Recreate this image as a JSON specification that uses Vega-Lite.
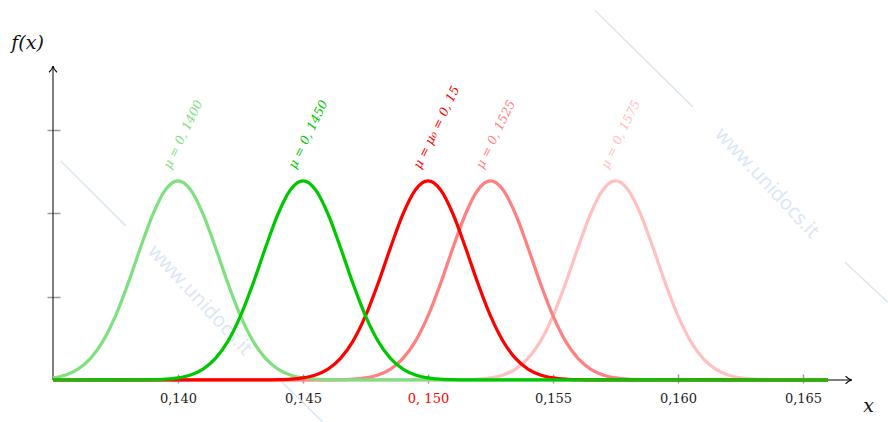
{
  "$schema": "https://vega.github.io/schema/vega-lite/v6.json",
  "width": 800,
  "height": 314,
  "autosize": {"type": "none"},
  "padding": {"left": 53, "top": 66, "right": 35, "bottom": 42},
  "background": "white",
  "config": {"view": {"stroke": null}},
  "datasets": {
    "curves": [
      {"s":"p1","x":0.135,"y":0},{"s":"p1","x":0.151,"y":0.0011},{"s":"p1","x":0.1515,"y":0.0035},{"s":"p1","x":0.152,"y":0.0099},{"s":"p1","x":0.1525,"y":0.0256},{"s":"p1","x":0.153,"y":0.0606},{"s":"p1","x":0.1535,"y":0.131},{"s":"p1","x":0.154,"y":0.259},{"s":"p1","x":0.1545,"y":0.467},{"s":"p1","x":0.155,"y":0.769},{"s":"p1","x":0.1555,"y":1.157},{"s":"p1","x":0.156,"y":1.589},{"s":"p1","x":0.1565,"y":1.993},{"s":"p1","x":0.157,"y":2.284},{"s":"p1","x":0.1575,"y":2.39},{"s":"p1","x":0.158,"y":2.284},{"s":"p1","x":0.1585,"y":1.993},{"s":"p1","x":0.159,"y":1.589},{"s":"p1","x":0.1595,"y":1.157},{"s":"p1","x":0.16,"y":0.769},{"s":"p1","x":0.1605,"y":0.467},{"s":"p1","x":0.161,"y":0.259},{"s":"p1","x":0.1615,"y":0.131},{"s":"p1","x":0.162,"y":0.0606},{"s":"p1","x":0.1625,"y":0.0256},{"s":"p1","x":0.163,"y":0.0099},{"s":"p1","x":0.1635,"y":0.0035},{"s":"p1","x":0.164,"y":0.0011},{"s":"p1","x":0.166,"y":0},
      {"s":"p2","x":0.135,"y":0},{"s":"p2","x":0.146,"y":0.0011},{"s":"p2","x":0.1465,"y":0.0035},{"s":"p2","x":0.147,"y":0.0099},{"s":"p2","x":0.1475,"y":0.0256},{"s":"p2","x":0.148,"y":0.0606},{"s":"p2","x":0.1485,"y":0.131},{"s":"p2","x":0.149,"y":0.259},{"s":"p2","x":0.1495,"y":0.467},{"s":"p2","x":0.15,"y":0.769},{"s":"p2","x":0.1505,"y":1.157},{"s":"p2","x":0.151,"y":1.589},{"s":"p2","x":0.1515,"y":1.993},{"s":"p2","x":0.152,"y":2.284},{"s":"p2","x":0.1525,"y":2.39},{"s":"p2","x":0.153,"y":2.284},{"s":"p2","x":0.1535,"y":1.993},{"s":"p2","x":0.154,"y":1.589},{"s":"p2","x":0.1545,"y":1.157},{"s":"p2","x":0.155,"y":0.769},{"s":"p2","x":0.1555,"y":0.467},{"s":"p2","x":0.156,"y":0.259},{"s":"p2","x":0.1565,"y":0.131},{"s":"p2","x":0.157,"y":0.0606},{"s":"p2","x":0.1575,"y":0.0256},{"s":"p2","x":0.158,"y":0.0099},{"s":"p2","x":0.1585,"y":0.0035},{"s":"p2","x":0.159,"y":0.0011},{"s":"p2","x":0.166,"y":0},
      {"s":"p3","x":0.135,"y":0.0256},{"s":"p3","x":0.1355,"y":0.0606},{"s":"p3","x":0.136,"y":0.131},{"s":"p3","x":0.1365,"y":0.259},{"s":"p3","x":0.137,"y":0.467},{"s":"p3","x":0.1375,"y":0.769},{"s":"p3","x":0.138,"y":1.157},{"s":"p3","x":0.1385,"y":1.589},{"s":"p3","x":0.139,"y":1.993},{"s":"p3","x":0.1395,"y":2.284},{"s":"p3","x":0.14,"y":2.39},{"s":"p3","x":0.1405,"y":2.284},{"s":"p3","x":0.141,"y":1.993},{"s":"p3","x":0.1415,"y":1.589},{"s":"p3","x":0.142,"y":1.157},{"s":"p3","x":0.1425,"y":0.769},{"s":"p3","x":0.143,"y":0.467},{"s":"p3","x":0.1435,"y":0.259},{"s":"p3","x":0.144,"y":0.131},{"s":"p3","x":0.1445,"y":0.0606},{"s":"p3","x":0.145,"y":0.0256},{"s":"p3","x":0.1455,"y":0.0099},{"s":"p3","x":0.146,"y":0.0035},{"s":"p3","x":0.1465,"y":0.0011},{"s":"p3","x":0.166,"y":0},
      {"s":"p4","x":0.135,"y":0},{"s":"p4","x":0.1435,"y":0.0011},{"s":"p4","x":0.144,"y":0.0035},{"s":"p4","x":0.1445,"y":0.0099},{"s":"p4","x":0.145,"y":0.0256},{"s":"p4","x":0.1455,"y":0.0606},{"s":"p4","x":0.146,"y":0.131},{"s":"p4","x":0.1465,"y":0.259},{"s":"p4","x":0.147,"y":0.467},{"s":"p4","x":0.1475,"y":0.769},{"s":"p4","x":0.148,"y":1.157},{"s":"p4","x":0.1485,"y":1.589},{"s":"p4","x":0.149,"y":1.993},{"s":"p4","x":0.1495,"y":2.284},{"s":"p4","x":0.15,"y":2.39},{"s":"p4","x":0.1505,"y":2.284},{"s":"p4","x":0.151,"y":1.993},{"s":"p4","x":0.1515,"y":1.589},{"s":"p4","x":0.152,"y":1.157},{"s":"p4","x":0.1525,"y":0.769},{"s":"p4","x":0.153,"y":0.467},{"s":"p4","x":0.1535,"y":0.259},{"s":"p4","x":0.154,"y":0.131},{"s":"p4","x":0.1545,"y":0.0606},{"s":"p4","x":0.155,"y":0.0256},{"s":"p4","x":0.1555,"y":0.0099},{"s":"p4","x":0.156,"y":0.0035},{"s":"p4","x":0.1565,"y":0.0011},{"s":"p4","x":0.166,"y":0},
      {"s":"p5","x":0.135,"y":0},{"s":"p5","x":0.1385,"y":0.0011},{"s":"p5","x":0.139,"y":0.0035},{"s":"p5","x":0.1395,"y":0.0099},{"s":"p5","x":0.14,"y":0.0256},{"s":"p5","x":0.1405,"y":0.0606},{"s":"p5","x":0.141,"y":0.131},{"s":"p5","x":0.1415,"y":0.259},{"s":"p5","x":0.142,"y":0.467},{"s":"p5","x":0.1425,"y":0.769},{"s":"p5","x":0.143,"y":1.157},{"s":"p5","x":0.1435,"y":1.589},{"s":"p5","x":0.144,"y":1.993},{"s":"p5","x":0.1445,"y":2.284},{"s":"p5","x":0.145,"y":2.39},{"s":"p5","x":0.1455,"y":2.284},{"s":"p5","x":0.146,"y":1.993},{"s":"p5","x":0.1465,"y":1.589},{"s":"p5","x":0.147,"y":1.157},{"s":"p5","x":0.1475,"y":0.769},{"s":"p5","x":0.148,"y":0.467},{"s":"p5","x":0.1485,"y":0.259},{"s":"p5","x":0.149,"y":0.131},{"s":"p5","x":0.1495,"y":0.0606},{"s":"p5","x":0.15,"y":0.0256},{"s":"p5","x":0.1505,"y":0.0099},{"s":"p5","x":0.151,"y":0.0035},{"s":"p5","x":0.1515,"y":0.0011},{"s":"p5","x":0.166,"y":0}
    ],
    "labels": [
      {"s":"p1","mu":0.1575,"t":"μ = 0, 1575"},
      {"s":"p2","mu":0.1525,"t":"μ = 0, 1525"},
      {"s":"p3","mu":0.14,"t":"μ = 0, 1400"},
      {"s":"p4","mu":0.15,"t":"μ = μ₀ = 0, 15"},
      {"s":"p5","mu":0.145,"t":"μ = 0, 1450"}
    ],
    "wmLines": [
      {"x1":0.13531,"y1":2.63,"x2":0.13791,"y2":1.85},
      {"x1":0.14399,"y1":0.024,"x2":0.14579,"y2":-0.504},
      {"x1":0.15667,"y1":4.44,"x2":0.16059,"y2":3.28},
      {"x1":0.16667,"y1":1.417,"x2":0.16839,"y2":0.936}
    ],
    "wmText": [
      {"x":0.14087,"y":0.96,"t":"www.unidocs.it"},
      {"x":0.16355,"y":2.365,"t":"www.unidocs.it"}
    ],
    "axes": [
      {"x1":0.135,"x2":0.16695,"y1":0,"y2":0},
      {"x1":0.135,"x2":0.135,"y1":0,"y2":3.77}
    ]
  },
  "layer": [
    {
      "data": {"name": "wmLines"},
      "mark": {"type": "rule", "color": "#dce7f4", "strokeWidth": 1.6},
      "encoding": {
        "x": {"field": "x1", "type": "quantitative", "scale": {"domain": [0.135, 0.167], "nice": false, "zero": false},
          "axis": {"values": [0.14, 0.145, 0.15, 0.155, 0.16, 0.165], "domain": false, "grid": false, "offset": -6, "tickSize": 9, "tickColor": "#999999", "tickWidth": 1.5,
            "labelFont": "DejaVu Serif", "labelFontSize": 13, "labelPadding": 9,
            "labelExpr": "abs(datum.value-0.15)<1e-6 ? '0, 150' : replace(format(datum.value, '.3f'), '.', ',')",
            "labelColor": {"condition": {"test": "abs(datum.value-0.15)<1e-6", "value": "#ff0000"}, "value": "#222222"},
            "title": "x", "titleFont": "DejaVu Serif", "titleFontStyle": "italic", "titleFontWeight": "normal", "titleFontSize": 19, "titleColor": "#111111",
            "titleX": 815, "titleY": 31, "titleAlign": "center", "titleBaseline": "middle"}},
        "x2": {"field": "x2"},
        "y": {"field": "y1", "type": "quantitative", "scale": {"domain": [0, 3.77], "nice": false, "zero": false},
          "axis": {"values": [1, 2, 3], "domain": false, "grid": false, "labels": false, "offset": -7, "tickSize": 13, "tickColor": "#999999", "tickWidth": 1.5,
            "title": "f(x)", "titleFont": "DejaVu Serif", "titleFontStyle": "italic", "titleFontWeight": "normal", "titleFontSize": 19, "titleColor": "#111111",
            "titleAngle": 0, "titleX": -33, "titleY": -24, "titleAlign": "center", "titleBaseline": "middle"}},
        "y2": {"field": "y2"}
      }
    },
    {
      "data": {"name": "wmText"},
      "mark": {"type": "text", "color": "#dce7f4", "font": "Open Sans", "fontSize": 20, "angle": 47, "align": "center", "baseline": "middle"},
      "encoding": {
        "x": {"field": "x", "type": "quantitative"},
        "y": {"field": "y", "type": "quantitative"},
        "text": {"field": "t"}
      }
    },
    {
      "data": {"name": "axes"},
      "mark": {"type": "rule", "color": "#000000", "strokeWidth": 1},
      "encoding": {
        "x": {"field": "x1", "type": "quantitative"},
        "x2": {"field": "x2"},
        "y": {"field": "y1", "type": "quantitative"},
        "y2": {"field": "y2"}
      }
    },
    {
      "data": {"values": [{"ax": 0.16695, "ay": 0}]},
      "mark": {"type": "point", "shape": "M-1.6,-1 C-1.1,-0.45 -0.5,-0.1 0,0 C-0.5,0.1 -1.1,0.45 -1.6,1", "filled": false, "stroke": "#000000", "strokeWidth": 1.2, "size": 60, "opacity": 1},
      "encoding": {
        "x": {"field": "ax", "type": "quantitative"},
        "y": {"field": "ay", "type": "quantitative"}
      }
    },
    {
      "data": {"values": [{"ax": 0.135, "ay": 3.77}]},
      "mark": {"type": "point", "shape": "M-1,1.6 C-0.45,1.1 -0.1,0.5 0,0 C0.1,0.5 0.45,1.1 1,1.6", "filled": false, "stroke": "#000000", "strokeWidth": 1.2, "size": 60, "opacity": 1},
      "encoding": {
        "x": {"field": "ax", "type": "quantitative"},
        "y": {"field": "ay", "type": "quantitative"}
      }
    },
    {
      "data": {"name": "curves"},
      "mark": {"type": "line", "strokeWidth": 3.2, "interpolate": "monotone"},
      "encoding": {
        "x": {"field": "x", "type": "quantitative"},
        "y": {"field": "y", "type": "quantitative"},
        "color": {"field": "s", "type": "nominal", "legend": null,
          "scale": {"domain": ["p1", "p2", "p3", "p4", "p5"], "range": ["#ffc0c0", "#ff8080", "#80e080", "#ff0000", "#00c800"]}}
      }
    },
    {
      "data": {"name": "labels"},
      "mark": {"type": "text", "font": "DejaVu Serif", "fontStyle": "italic", "fontSize": 12.5, "angle": -64, "align": "left", "baseline": "middle", "dx": -5, "dy": -10},
      "encoding": {
        "x": {"field": "mu", "type": "quantitative"},
        "y": {"datum": 2.55, "type": "quantitative"},
        "text": {"field": "t"},
        "color": {"field": "s", "type": "nominal", "legend": null}
      }
    }
  ]
}
